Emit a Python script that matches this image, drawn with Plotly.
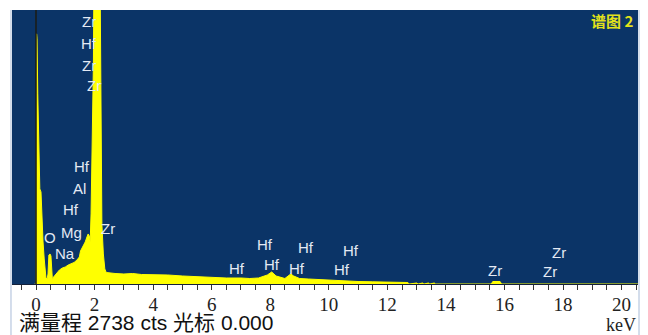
import plotly.graph_objects as go

# EDS spectrum (energy in keV, counts)
energy_kev = [
    -0.05, 0.005, 0.02, 0.035, 0.06, 0.11, 0.13, 0.17, 0.19, 0.24, 0.28, 0.31,
    0.34, 0.38, 0.41, 0.44, 0.48, 0.51, 0.53, 0.56, 0.60, 0.70, 0.80, 0.90,
    1.00, 1.10, 1.20, 1.30, 1.40, 1.48, 1.52, 1.58, 1.62, 1.68, 1.74, 1.78,
    1.82, 1.85, 1.88, 1.92, 1.96, 1.99, 2.04, 2.09, 2.14, 2.19, 2.22, 2.25,
    2.30, 2.35, 2.40, 2.50, 2.70, 3.00, 3.30, 3.60, 4.00, 4.50,
    5.00, 5.50, 6.00, 6.50, 7.00, 7.30, 7.60, 7.90, 8.05, 8.20, 8.50, 8.70,
    8.80, 9.00, 9.30, 9.60, 10.00, 10.50, 11.00, 11.50, 12.00, 12.50, 12.70,
    12.75, 13.00, 13.05, 13.20, 13.25, 13.40, 13.45, 13.60, 13.65, 15.55,
    15.60, 15.85, 15.90, 20.60,
]
counts = [
    0, 0, 2500, 2450, 1900, 1300, 950, 920, 700, 420, 250, 120,
    60, 50, 100, 290, 300, 280, 90, 40, 70, 110, 140, 160,
    170, 190, 200, 215, 240, 270, 330, 360, 380, 420, 470, 500,
    480, 420, 700, 1300, 2200, 3600, 6500, 7200, 6000, 3000, 1500, 600,
    300, 150, 115, 110, 105, 100, 105, 95, 95, 90,
    80, 72, 62, 60, 60, 55, 60, 90, 120, 80, 55, 100,
    80, 55, 50, 45, 35, 28, 25, 22, 20, 18, 15,
    0, 10, 0, 10, 0, 10, 0, 10, 0, 0,
    25, 25, 0, 0,
]

full_scale_cts = 2738
cursor_kev = 0.000
spectrum_name = "谱图 2"

# Element line labels: text, energy (keV), label height (counts)
label_text = ["Zr", "Hf", "Zr", "Zr", "Hf", "Al", "Hf", "Mg", "O", "Na", "Zr",
              "Hf", "Hf", "Hf", "Hf", "Hf", "Hf", "Hf", "Zr", "Zr", "Zr"]
label_kev = [1.82, 1.80, 1.80, 1.97, 1.57, 1.50, 1.20, 1.20, 0.48, 0.99, 2.46,
             6.86, 7.82, 8.06, 8.91, 9.22, 10.76, 10.45, 15.68, 17.86, 17.55]
label_cts = [2620, 2400, 2180, 1980, 1170, 950, 740, 510, 460, 300, 550,
             150, 390, 190, 150, 360, 330, 140, 130, 310, 120]

tick_vals = list(range(0, 21, 2))

BG = "#0B3467"
YELLOW = "#FFFF00"

fig = go.Figure()

for t, xk, yc in zip(label_text, label_kev, label_cts):
    fig.add_annotation(x=xk, y=yc, text=t, showarrow=False,
                       xanchor="center", yanchor="middle",
                       font=dict(family="Liberation Sans, Arial", size=15,
                                 color="#E4EAF4"))

fig.add_trace(go.Scatter(
    x=energy_kev, y=counts, mode="lines", fill="tozeroy",
    fillcolor=YELLOW, line=dict(color=YELLOW, width=1),
    hoverinfo="skip", showlegend=False,
))

# spectrum name, top right
fig.add_annotation(xref="paper", yref="paper", x=0.996, y=0.962,
                   text=f"<b>{spectrum_name}</b>", showarrow=False,
                   xanchor="right", yanchor="middle",
                   font=dict(family="Noto Sans CJK SC", size=15, color="#E2E21A"))

# status line under the axis
fig.add_annotation(xref="paper", yref="paper", x=(17 - 12) / 626, y=-0.142,
                   text=f"满量程 {full_scale_cts} cts 光标 {cursor_kev:.3f}",
                   showarrow=False, xanchor="left", yanchor="middle",
                   font=dict(family="Liberation Sans, Noto Sans CJK SC", size=21,
                             color="#111111"))
fig.add_annotation(xref="paper", yref="paper", x=(638 - 12) / 626, y=-0.148,
                   text="keV", showarrow=False, xanchor="right", yanchor="middle",
                   font=dict(family="Liberation Serif, Times New Roman", size=18,
                             color="#222222"))

# cursor line
fig.add_shape(type="line", xref="x", yref="paper", x0=cursor_kev, x1=cursor_kev,
              y0=0, y1=1, line=dict(color="#1C1C14", width=1.5))

# thin light frame around the panel
frame = dict(color="#A9BCD8", width=1)
fig.add_shape(type="line", xref="paper", yref="paper", x0=-0.0016, x1=-0.0016,
              y0=-0.2, y1=1.0, line=frame)
fig.add_shape(type="line", xref="paper", yref="paper", x0=1.0016, x1=1.0016,
              y0=-0.2, y1=1.0, line=frame)

fig.update_layout(
    width=648, height=335,
    margin=dict(l=12, r=10, t=10, b=51),
    paper_bgcolor="white", plot_bgcolor=BG,
    xaxis=dict(range=[-0.82, 20.56], tickmode="array", tickvals=tick_vals,
               ticktext=[str(v) for v in tick_vals],
               ticks="outside", ticklen=5, tickwidth=1, tickcolor="#333333",
               ticklabelstandoff=-2,
               minor=dict(dtick=0.5, ticks="outside", ticklen=5,
                          tickcolor="#333333", tickwidth=1, showgrid=False),
               showgrid=False, zeroline=False,
               showline=True, linecolor="#14203A", linewidth=1,
               tickfont=dict(family="Liberation Serif, Times New Roman", size=19,
                             color="#222222")),
    yaxis=dict(range=[0, full_scale_cts], visible=False, showgrid=False,
               zeroline=False),
)

fig.write_html("out.html")
